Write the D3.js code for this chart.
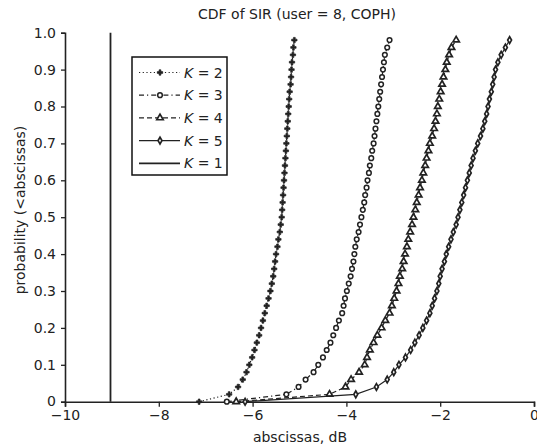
<!DOCTYPE html>
<html>
<head>
<meta charset="utf-8">
<script src="https://cdn.jsdelivr.net/npm/d3@7"></script>
<style>
  body { margin: 0; background: #fff; }
  text { font-family: "DejaVu Sans", sans-serif; fill: #222; }
</style>
</head>
<body>
<div id="chart"></div>
<script>
// probability levels shared by all curves
var probs = [0, 0.02, 0.04, 0.06, 0.08, 0.10, 0.12, 0.14, 0.16, 0.18,
  0.20, 0.22, 0.24, 0.26, 0.28, 0.30, 0.32, 0.34, 0.36, 0.38,
  0.40, 0.42, 0.44, 0.46, 0.48, 0.50, 0.52, 0.54, 0.56, 0.58,
  0.60, 0.62, 0.64, 0.66, 0.68, 0.70, 0.72, 0.74, 0.76, 0.78,
  0.80, 0.82, 0.84, 0.86, 0.88, 0.90, 0.92, 0.94, 0.96, 0.98];

// SIR in dB for each probability level
var k2 = [-7.14, -6.50, -6.31, -6.21, -6.13, -6.07, -6.01, -5.96, -5.91, -5.86,
  -5.82, -5.78, -5.74, -5.70, -5.66, -5.62, -5.59, -5.56, -5.54, -5.52,
  -5.50, -5.47, -5.45, -5.42, -5.40, -5.38, -5.37, -5.36, -5.35, -5.34,
  -5.33, -5.32, -5.31, -5.30, -5.29, -5.28, -5.27, -5.26, -5.25, -5.24,
  -5.23, -5.22, -5.21, -5.19, -5.18, -5.17, -5.16, -5.14, -5.13, -5.11];
var k3 = [-6.55, -5.28, -5.02, -4.87, -4.70, -4.60, -4.50, -4.42, -4.34, -4.28,
  -4.22, -4.16, -4.09, -4.06, -4.03, -3.99, -3.95, -3.91, -3.88, -3.85,
  -3.83, -3.81, -3.78, -3.74, -3.71, -3.68, -3.65, -3.62, -3.60, -3.57,
  -3.55, -3.52, -3.50, -3.47, -3.45, -3.42, -3.40, -3.38, -3.36, -3.34,
  -3.32, -3.30, -3.28, -3.26, -3.24, -3.22, -3.20, -3.18, -3.13, -3.08];
var k4 = [-6.35, -4.36, -4.02, -3.90, -3.73, -3.61, -3.56, -3.50, -3.42, -3.34,
  -3.25, -3.17, -3.08, -3.03, -2.98, -2.93, -2.89, -2.86, -2.81, -2.78,
  -2.75, -2.71, -2.68, -2.64, -2.60, -2.57, -2.53, -2.50, -2.46, -2.43,
  -2.39, -2.36, -2.32, -2.29, -2.25, -2.22, -2.17, -2.13, -2.10, -2.07,
  -2.05, -2.02, -1.99, -1.96, -1.93, -1.89, -1.86, -1.81, -1.76, -1.66];
var k5 = [-6.16, -3.80, -3.36, -3.13, -2.99, -2.88, -2.74, -2.63, -2.54, -2.45,
  -2.37, -2.29, -2.22, -2.17, -2.12, -2.07, -2.03, -2.00, -1.96, -1.91,
  -1.87, -1.82, -1.77, -1.72, -1.66, -1.62, -1.58, -1.54, -1.50, -1.46,
  -1.42, -1.38, -1.34, -1.30, -1.25, -1.20, -1.14, -1.09, -1.05, -1.01,
  -0.98, -0.95, -0.91, -0.88, -0.85, -0.82, -0.77, -0.70, -0.61, -0.52];
// K = 1 is a single step at about -9 dB
var k1x = [-9.03, -9.03];
var k1p = [0, 1];

var xTicks = [-10, -8, -6, -4, -2, 0];
var yTicks = [0, 0.1, 0.2, 0.3, 0.4, 0.5, 0.6, 0.7, 0.8, 0.9, 1.0];
var legendLabels = ["2", "3", "4", "5", "1"];

var W = 537, H = 448;
var svg = d3.select("#chart").append("svg")
    .attr("width", W)
    .attr("height", H);

var x = d3.scaleLinear().domain([-10, 0]).range([65, 534]);
var y = d3.scaleLinear().domain([0, 1]).range([401.7, 32.7]);

// axes
var xAxis = svg.append("g")
    .attr("transform", "translate(0," + y(0) + ")")
    .call(d3.axisBottom(x).tickValues(xTicks).tickSize(5).tickPadding(3)
      .tickFormat(function(d) { return d < 0 ? "\u2212" + Math.abs(d) : d; }));
var yAxis = svg.append("g")
    .attr("transform", "translate(" + x(-10) + ",0)")
    .call(d3.axisLeft(y).tickValues(yTicks).tickSize(4).tickPadding(5)
      .tickFormat(function(d) { return d === 0 ? "0" : d.toFixed(1); }));
[xAxis, yAxis].forEach(function(a) {
  a.select(".domain").attr("stroke", "#222").attr("stroke-width", 1.6);
  a.selectAll(".tick line").attr("stroke", "#222").attr("stroke-width", 1.3);
  a.selectAll(".tick text")
    .style("font-family", "DejaVu Sans, sans-serif")
    .style("font-size", "14px")
    .attr("fill", "#222");
});
// "0" on the y axis sits a little higher than the others in the reference
yAxis.selectAll(".tick text").filter(function(d) { return d === 0; }).attr("dy", "0.25em");

// titles
svg.append("text")
    .attr("x", 297).attr("y", 19)
    .attr("text-anchor", "middle")
    .style("font-size", "14px")
    .text("CDF of SIR (user = 8, COPH)");
svg.append("text")
    .attr("x", 300).attr("y", 442)
    .attr("text-anchor", "middle")
    .style("font-size", "14px")
    .text("abscissas, dB");
svg.append("text")
    .attr("transform", "translate(25,210)rotate(-90)")
    .attr("text-anchor", "middle")
    .style("font-size", "14px")
    .text("probability (<abscissas)");

var series = [
  {xs: k2, dash: "1.2,2.5", sym: d3.symbolCross, size: 16, fill: "#222", sw: 0.7},
  {xs: k3, dash: "5,3,1.2,3", sym: d3.symbolCircle, size: 17, fill: "#fff", sw: 1.5},
  {xs: k4, dash: "5,3", sym: d3.symbolTriangle, size: 18, fill: "#fff", sw: 1.7},
  {xs: k5, dash: null, sym: d3.symbolDiamond, size: 13, fill: "#fff", sw: 1.7}
];

var line = d3.line()
    .x(function(d) { return x(d[0]); })
    .y(function(d) { return y(d[1]); });

series.forEach(function(s) {
  var pts = s.xs.map(function(v, i) { return [v, probs[i]]; });
  svg.append("path")
      .datum(pts)
      .attr("d", line)
      .attr("fill", "none")
      .attr("stroke", "#222")
      .attr("stroke-width", 1.2)
      .attr("stroke-dasharray", s.dash);
  svg.selectAll(null)
      .data(pts)
      .enter()
      .append("path")
      .attr("transform", function(d) { return "translate(" + x(d[0]) + "," + y(d[1]) + ")"; })
      .attr("d", d3.symbol().type(s.sym).size(s.size))
      .attr("fill", s.fill)
      .attr("stroke", "#222")
      .attr("stroke-width", s.sw);
});

// K = 1 vertical step
svg.append("path")
    .datum(k1x.map(function(v, i) { return [v, k1p[i]]; }))
    .attr("d", line)
    .attr("fill", "none")
    .attr("stroke", "#222")
    .attr("stroke-width", 1.8);

// legend
var lg = svg.append("g");
lg.append("rect")
    .attr("x", 132).attr("y", 57)
    .attr("width", 95).attr("height", 118)
    .attr("fill", "#fff")
    .attr("stroke", "#111")
    .attr("stroke-width", 1.5);
var legendItems = series.concat([{dash: null, sym: null}]);
legendItems.forEach(function(s, i) {
  var cy = 72.5 + i * 22.7;
  lg.append("line")
      .attr("x1", 139).attr("x2", 180)
      .attr("y1", cy).attr("y2", cy)
      .attr("stroke", "#222")
      .attr("stroke-width", s.sym ? 1.2 : 1.8)
      .attr("stroke-dasharray", s.dash);
  if (s.sym) {
    lg.append("path")
        .attr("transform", "translate(160," + cy + ")")
        .attr("d", d3.symbol().type(s.sym).size(s.size))
        .attr("fill", s.fill)
        .attr("stroke", "#222")
        .attr("stroke-width", s.sw);
  }
  var t = lg.append("text")
      .attr("x", 184).attr("y", cy + 5)
      .style("font-size", "14px");
  t.append("tspan").style("font-style", "italic").text("K");
  t.append("tspan").text(" = " + legendLabels[i]);
});
</script>
</body>
</html>
